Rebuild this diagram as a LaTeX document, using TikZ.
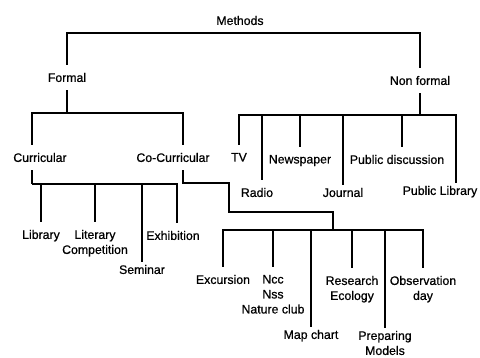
\documentclass[tikz,border=0pt]{standalone}
\usepackage{fontspec}
\setmainfont{Liberation Sans}[FakeBold=0.7]
\begin{document}
\begin{tikzpicture}[x=1pt,y=-1pt,
  lbl/.style={anchor=north,align=center,inner xsep=2pt,inner ysep=2pt,outer ysep=6pt,
    font=\fontsize{12.3}{15}\selectfont,text=textcolor},
  lowlbl/.style={lbl,inner ysep=1pt,outer ysep=2pt},
  link/.style={draw=linecolor,line width=1.2pt}]
\definecolor{linecolor}{RGB}{0,0,0}
\definecolor{textcolor}{RGB}{0,0,0}
\definecolor{background}{RGB}{255,255,255}
\useasboundingbox [fill=background] (0,0) rectangle (480,358);
% top levels
\node [lbl] (methods) at (240,8) {Methods};
\node [lbl] (formal) at (67,65) {Formal};
\node [lbl] (nonformal) at (420,68) {Non formal};
\node [lbl] (curr) at (40,145) {Curricular};
\node [lbl] (cocurr) at (173,145) {Co-Curricular};
% curricular
\node [lbl] (library) at (41,222) {Library};
\node [lbl] (literary) at (95,222) {Literary\\Competition};
\node [lowlbl] (seminar) at (142,262) {Seminar};
\node [lbl] (exhibition) at (173,223) {Exhibition};
% non formal
\node [lbl] (tv) at (239,145) {TV};
\node [lbl] (radio) at (257,180) {Radio};
\node [lbl] (newspaper) at (300,147) {Newspaper};
\node [lowlbl] (journal) at (343,185) {Journal};
\node [lbl] (discussion) at (397,147) {Public discussion};
\node [lowlbl] (publib) at (440,183) {Public Library};
% co-curricular
\node [lbl] (excursion) at (223,267) {Excursion};
\node [lbl] (ncc) at (273,267) {Ncc\\Nss\\Nature club};
\node [lowlbl] (mapchart) at (311,327) {Map chart};
\node [lbl] (research) at (352,268) {Research\\Ecology};
\node [lowlbl] (preparing) at (385,328) {Preparing\\Models};
\node [lbl] (observation) at (423,268) {Observation\\day};
% bars
\coordinate (fbar) at (67,113);
\coordinate (cbar) at (32,184);
\coordinate (nbar) at (420,115);
\coordinate (bend1) at (229,183);
\coordinate (bend2) at (229,212);
\coordinate (kbar) at (333,230);
\draw [link] (formal.north) |- (methods.south) -| (nonformal.north);
\draw [link] (formal.south) -- (fbar);
\draw [link] (fbar) -| ([xshift=-8pt]curr.north);
\draw [link] (fbar) -| ([xshift=10pt]cocurr.north);
\draw [link] ([xshift=-8pt]curr.south) -- (cbar);
\draw [link] (cbar) -| (library.north);
\draw [link] (cbar) -| (literary.north);
\draw [link] (cbar) -| (seminar.north);
\draw [link] (cbar) -| ([xshift=4pt]exhibition.north);
\draw [link] (nonformal.south) -- (nbar);
\draw [link] (nbar) -| (tv.north);
\draw [link] (nbar) -| ([xshift=5pt]radio.north);
\draw [link] (nbar) -| (newspaper.north);
\draw [link] (nbar) -| (journal.north);
\draw [link] (nbar) -| ([xshift=5pt]discussion.north);
\draw [link] (nbar) -| ([xshift=16pt]publib.north);
\draw [link] ([xshift=10pt]cocurr.south) |- (bend1) -- (bend2) -| (kbar);
\draw [link] (kbar) -| (excursion.north);
\draw [link] (kbar) -| (ncc.north);
\draw [link] (kbar) -| (mapchart.north);
\draw [link] (kbar) -| (research.north);
\draw [link] (kbar) -| (preparing.north);
\draw [link] (kbar) -| (observation.north);
\end{tikzpicture}
\end{document}
